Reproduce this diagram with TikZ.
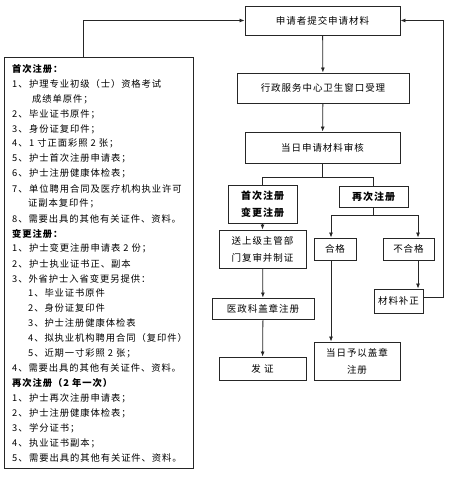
\documentclass[tikz,border=0pt]{standalone}
\usepackage{fontspec}
\setmainfont{Noto Sans CJK SC}[LetterSpace=10]
\usetikzlibrary{arrows.meta}
\newcommand{\nm}[1]{\makebox[17pt][l]{#1、}}
\begin{document}
\begin{tikzpicture}[x=1pt,y=-1pt,
  box/.style={draw=black!85,line width=0.9pt,align=center,inner sep=0pt,
    font=\fontsize{9.5}{17}\selectfont},
  bbox/.style={box,font=\fontsize{10}{17}\selectfont\bfseries},
  arr/.style={draw=black!85,line width=0.8pt,-{Latex[length=5pt,width=4pt]}},
  ln/.style={draw=black!85,line width=0.8pt},
  txt/.style={anchor=west,inner sep=0pt,font=\fontsize{9.3}{10}\selectfont}]
\useasboundingbox (0,0) rectangle (473,500);
% right-hand boxes
\node[box,minimum width=155,minimum height=29] (top) at (322.5,20.5) {申请者提交申请材料};
\node[box,minimum width=172,minimum height=30] (accept) at (323,88) {行政服务中心卫生窗口受理};
\node[box,minimum width=155,minimum height=31] (review) at (322.5,147.5) {当日申请材料审核};
\node[bbox,minimum width=69,minimum height=38] (first) at (262.5,204) {首次注册\\变更注册};
\node[bbox,minimum width=69,minimum height=21] (again) at (373.5,196.5) {再次注册};
\node[box,minimum width=87,minimum height=38] (send) at (262.5,249) {送上级主管部\\门复审并制证};
\node[box,minimum width=102,minimum height=21] (stamp) at (263,308.5) {医政科盖章注册};
\node[box,minimum width=87,minimum height=23] (cert) at (262.5,368.5) {发\ 证};
\node[box,minimum width=42,minimum height=22] (pass) at (335,249) {合格};
\node[box,minimum width=51,minimum height=22] (fail) at (408.5,249) {不合格};
\node[box,minimum width=49,minimum height=24] (fix) at (398.5,301) {材料补正};
\node[box,minimum width=86,minimum height=38] (today) at (357,361) {当日予以盖章\\注册};
% left panel
\node[draw=black!85,line width=0.9pt,minimum width=189,minimum height=411,anchor=north west,inner sep=0pt] (panel) at (4,57) {};
\foreach \k/\x/\t in {
 1/12/{\bfseries 首次注册：},
 2/12/{\nm{1}护理专业初级（士）资格考试},
 3/32/{成绩单原件；},
 4/12/{\nm{2}毕业证书原件；},
 5/12/{\nm{3}身份证复印件；},
 6/12/{\nm{4}1 寸正面彩照 2 张；},
 7/12/{\nm{5}护士首次注册申请表；},
 8/12/{\nm{6}护士注册健康体检表；},
 9/12/{\nm{7}单位聘用合同及医疗机构执业许可},
 10/28/{证副本复印件；},
 11/12/{8、需要出具的其他有关证件、资料。},
 12/12/{\bfseries 变更注册：},
 13/12/{\nm{1}护士变更注册申请表 2 份；},
 14/12/{\nm{2}护士执业证书正、副本},
 15/12/{3、外省护士入省变更另提供：},
 16/28/{1、毕业证书原件},
 17/28/{2、身份证复印件},
 18/28/{3、护士注册健康体检表},
 19/28/{4、拟执业机构聘用合同（复印件）},
 20/28/{5、近期一寸彩照 2 张；},
 21/12/{4、需要出具的其他有关证件、资料。},
 22/12/{\bfseries 再次注册（2 年一次）},
 23/12/{\nm{1}护士再次注册申请表；},
 24/12/{\nm{2}护士注册健康体检表；},
 25/12/{\nm{3}学分证书；},
 26/12/{\nm{4}执业证书副本；},
 27/12/{\nm{5}需要出具的其他有关证件、资料。}}
 \node[txt] (l\k) at (\x,{69+(\k-1)*14.96}) {\t};
% connectors
\draw[arr] (top) -- (accept);
\draw[arr] (accept) -- (review);
\coordinate (b1) at (0,177);
\draw[ln] (review.south) -- (review.south |- b1);
\draw[ln] (first.north |- b1) -- (again.north |- b1);
\draw[ln] (first.north |- b1) -- (first.north);
\draw[ln] (again.north |- b1) -- (again.north);
\draw[arr] (first) -- (send);
\draw[arr] (send) -- (stamp);
\draw[arr] (stamp) -- (cert);
\coordinate (p) at (331,215);
\coordinate (f) at (418,215);
\draw[ln] (again.south) -- (again.south |- p);
\draw[ln] (p) -- (f);
\draw[arr] (p) -- (p |- pass.north);
\draw[arr] (f) -- (f |- fail.north);
\draw[arr] (f |- fail.south) -- (f |- fix.north);
\draw[arr] (p |- pass.south) -- (p |- today.north);
\coordinate (rr) at (443,0);
\coordinate (fb) at (0,297);
\draw[arr] (fix.east |- fb) -| (rr |- top.east) -- (top.east);
\coordinate (lp) at (83,57);
\draw[arr] (lp) |- (top.west);
\end{tikzpicture}
\end{document}
